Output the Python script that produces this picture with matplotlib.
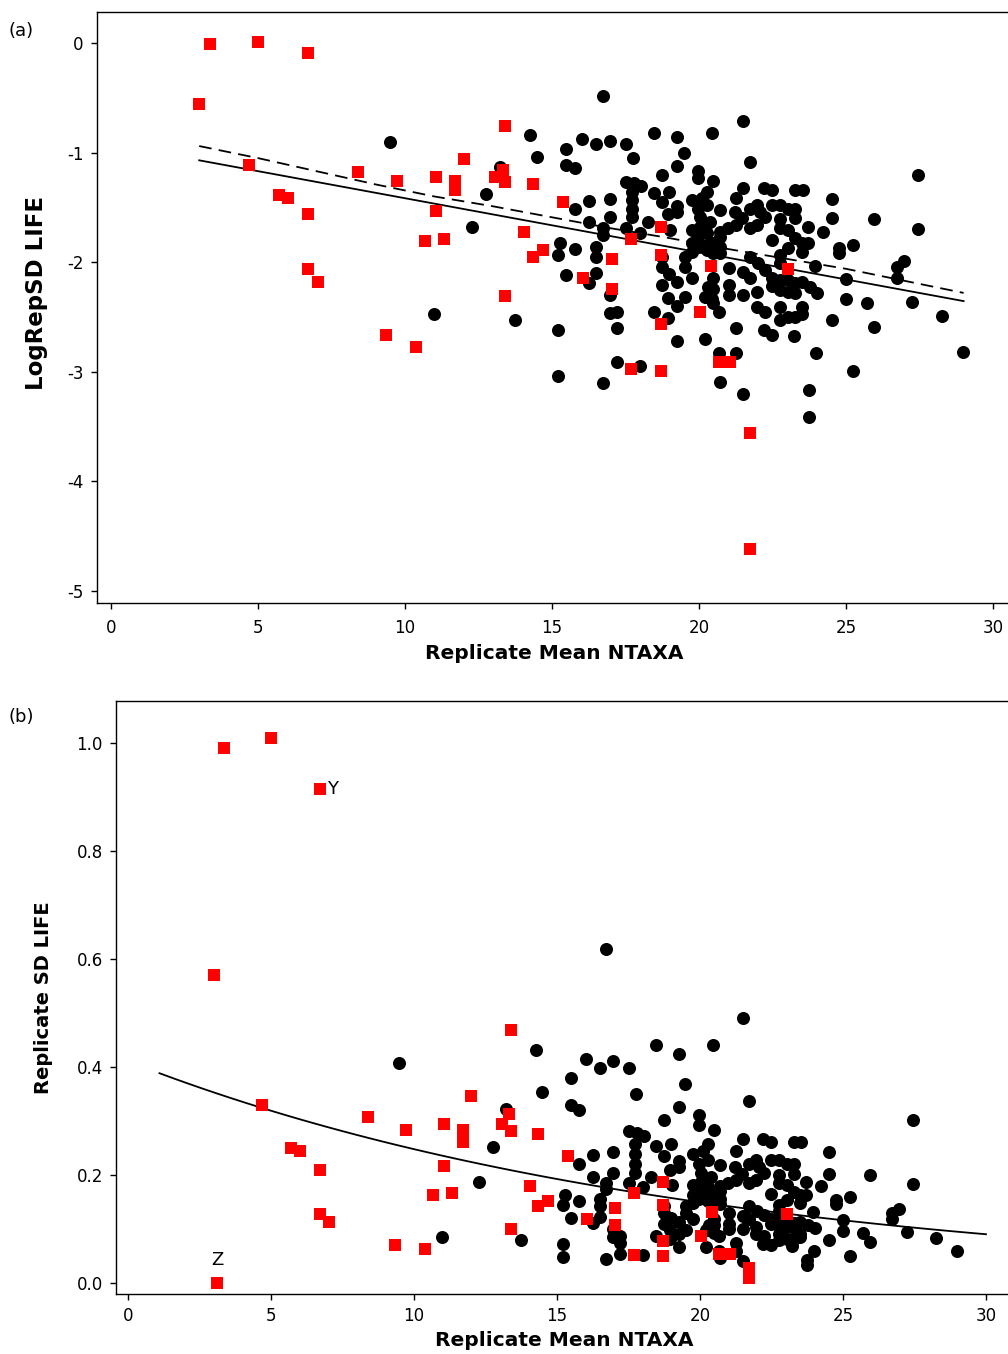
import numpy as np
import matplotlib
matplotlib.use("Agg")
import matplotlib.pyplot as plt

plt.rcParams.update({
    "font.family": "DejaVu Sans",
    "font.size": 12,
    "axes.linewidth": 1.0,
    "xtick.direction": "out",
    "ytick.direction": "out",
    "xtick.major.size": 4.5,
    "ytick.major.size": 4.5,
    "xtick.major.width": 1.0,
    "ytick.major.width": 1.0,
})

# ---------------------------------------------------------------------------
# Replicate means (NTAXA) and log replicate SD of LIFE
# ---------------------------------------------------------------------------
black_mean = [
    9.49, 10.99, 12.28, 12.76, 13.23, 13.74, 14.25, 14.49, 16.73, 15.48,
    16.02, 16.50, 16.97, 17.52, 17.76, 15.48, 15.78, 18.47, 19.25, 19.49,
    19.25, 18.74, 19.97, 19.97, 20.44, 17.52, 17.79, 18.03, 17.72, 17.72,
    17.72, 17.72, 18.47, 18.98, 18.74, 19.25, 19.25, 18.95, 19.76, 20.10,
    20.27, 19.97, 20.27, 16.26, 16.97, 15.78, 16.26, 16.97, 16.73, 16.73,
    17.52, 17.99, 18.27, 19.01, 19.76, 19.76, 19.76, 19.97, 19.97, 20.27,
    20.27, 15.27, 15.78, 16.50, 16.50, 15.20, 18.74, 18.74, 19.52, 19.52,
    18.98, 19.25, 18.74, 19.76, 15.48, 16.50, 16.26, 16.97, 16.97, 17.21,
    17.21, 15.20, 15.20, 16.73, 17.21, 17.99, 18.47, 18.95, 19.25, 20.20,
    18.95, 19.25, 19.52, 20.20, 20.31, 20.44, 20.48, 20.68, 20.68, 20.71,
    21.26, 21.26, 21.50, 22.21, 22.48, 23.23, 21.97, 22.24, 22.76, 22.76,
    23.03, 23.27, 23.50, 23.50, 22.76, 23.03, 23.27, 22.76, 23.03, 23.27,
    23.50, 23.78, 24.01, 21.73, 22.01, 22.24, 22.48, 22.48, 22.76, 22.76,
    23.03, 23.50, 23.95, 24.76, 24.76, 25.24, 21.02, 21.50, 21.73, 20.48,
    20.27, 20.48, 21.02, 21.02, 21.50, 21.97, 24.52, 25.00, 25.00, 25.71,
    25.95, 27.24, 28.27, 28.98, 26.73, 26.97, 26.73, 27.45, 27.45, 25.95,
    24.52, 24.52, 24.22, 23.71, 23.98, 23.74, 23.74, 25.24, 21.50, 21.73,
    20.48, 21.50, 21.26, 22.21, 22.48, 23.27, 23.54, 20.71, 21.22, 21.46,
    21.26, 20.99, 20.71, 20.37, 20.03, 20.03, 21.73, 21.97, 22.24, 21.97,
    21.73, 22.07, 22.48, 22.76, 23.03, 23.27, 23.27, 22.76, 22.76, 23.03,
    22.48, 23.27, 23.50, 23.71, 20.71, 20.48, 20.71, 20.27, 20.48, 20.71,
]
black_logsd = [
    -0.90, -2.47, -1.68, -1.38, -1.13, -2.53, -0.84, -1.04, -0.48, -0.97,
    -0.88, -0.92, -0.89, -0.92, -1.05, -1.11, -1.14, -0.82, -0.86, -1.00,
    -1.12, -1.20, -1.17, -1.23, -0.82, -1.27, -1.28, -1.30, -1.36, -1.43,
    -1.51, -1.59, -1.37, -1.36, -1.45, -1.49, -1.54, -1.56, -1.43, -1.41,
    -1.36, -1.51, -1.48, -1.44, -1.42, -1.51, -1.63, -1.59, -1.69, -1.75,
    -1.69, -1.73, -1.63, -1.71, -1.71, -1.82, -1.91, -1.77, -1.86, -1.73,
    -1.84, -1.82, -1.88, -1.86, -1.95, -1.93, -1.95, -2.04, -1.95, -2.04,
    -2.11, -2.18, -2.21, -2.14, -2.12, -2.10, -2.19, -2.30, -2.46, -2.45,
    -2.60, -2.62, -3.04, -3.10, -2.91, -2.95, -2.45, -2.51, -2.72, -2.70,
    -2.33, -2.40, -2.32, -2.32, -2.23, -2.34, -2.14, -2.45, -2.83, -3.09,
    -2.60, -2.83, -3.20, -2.62, -2.66, -2.67, -2.41, -2.45, -2.41, -2.53,
    -2.50, -2.50, -2.41, -2.47, -2.25, -2.27, -2.28, -2.16, -2.16, -2.19,
    -2.18, -2.23, -2.28, -1.95, -2.01, -2.07, -2.14, -2.22, -1.93, -2.01,
    -1.87, -1.91, -2.03, -1.87, -1.92, -1.84, -2.05, -2.09, -2.14, -2.24,
    -2.32, -2.37, -2.21, -2.30, -2.30, -2.27, -2.53, -2.15, -2.34, -2.37,
    -2.59, -2.36, -2.49, -2.82, -2.04, -1.99, -2.14, -1.20, -1.70, -1.61,
    -1.42, -1.60, -1.72, -1.68, -2.83, -3.17, -3.41, -2.99, -0.71, -1.09,
    -1.26, -1.32, -1.41, -1.32, -1.34, -1.34, -1.34, -1.52, -1.54, -1.60,
    -1.66, -1.69, -1.72, -1.63, -1.59, -1.68, -1.51, -1.48, -1.59, -1.66,
    -1.69, -1.54, -1.48, -1.48, -1.51, -1.51, -1.60, -1.61, -1.69, -1.71,
    -1.80, -1.78, -1.82, -1.82, -1.77, -1.82, -1.86, -1.89, -1.92, -1.92,
]

red_mean = [
    2.99, 3.37, 5.00, 6.70, 4.69, 5.71, 6.02, 6.70, 6.70, 7.04,
    8.40, 9.73, 11.05, 11.70, 11.70, 12.01, 11.05, 10.68, 11.33, 9.35,
    10.37, 13.33, 13.06, 13.40, 13.40, 14.35, 15.37, 14.05, 14.69, 14.35,
    17.69, 18.71, 18.71, 17.04, 16.05, 17.04, 20.41, 23.03, 13.40, 20.03,
    18.71, 17.69, 18.71, 20.68, 21.05, 21.73, 21.73,
]
red_logsd = [
    -0.56, -0.01, 0.01, -0.09, -1.11, -1.39, -1.41, -1.56, -2.06, -2.18,
    -1.18, -1.26, -1.22, -1.26, -1.34, -1.06, -1.53, -1.81, -1.79, -2.66,
    -2.77, -1.16, -1.22, -1.27, -0.76, -1.29, -1.45, -1.72, -1.89, -1.95,
    -1.79, -1.68, -1.93, -1.97, -2.14, -2.24, -2.03, -2.06, -2.31, -2.45,
    -2.56, -2.97, -2.99, -2.91, -2.91, -3.56, -4.62,
]

# sample with zero replicate SD (no log value), labelled Z
zero_mean = [3.11]
zero_sd = [0.0]

# sample labelled Y (index into the red series)
y_index = 3

# fitted relationship on the log scale (solid) and smoother (dashed)
log_fit_coef = (-0.922, -0.0494)
log_fit_range = (3.0, 29.0)
smooth_mean = [3.0, 5, 7, 9, 11, 13, 15, 17, 19, 21, 23, 25, 27, 29]
smooth_logsd = [-0.94, -1.05, -1.17, -1.29, -1.40, -1.49, -1.59,
                -1.69, -1.78, -1.88, -1.97, -2.06, -2.17, -2.28]

# fitted SD curve for panel (b)
sd_fit_coef = (-0.89, -0.0505)
sd_fit_range = (1.1, 30.0)

RED = "#ff0000"
W, H = 1008, 1354


def px_axes(fig, left, top, right, bottom):
    return fig.add_axes([left / W, 1 - bottom / H, (right - left) / W, (bottom - top) / H])


def style_axes(ax, pad):
    ax.spines["right"].set_visible(False)
    ax.tick_params(top=False, right=False, labelsize=12)
    ax.tick_params(axis="x", pad=pad)
    ax.tick_params(axis="y", pad=5)
    ax.set_xticks(np.arange(0, 31, 5))


fig = plt.figure(figsize=(W / 100, H / 100), dpi=100)

# ---- panel (a) -------------------------------------------------------------
ax_a = px_axes(fig, 97, 12, 1012, 603)
xs = np.linspace(*log_fit_range, 50)
ax_a.plot(xs, log_fit_coef[0] + log_fit_coef[1] * xs, color="black", lw=1.3, zorder=1)
ax_a.plot(smooth_mean, smooth_logsd, color="black", lw=1.3, ls=(0, (7, 4)), zorder=1)
ax_a.scatter(black_mean, black_logsd, s=88, marker="o", color="black",
             linewidths=0, zorder=2)
ax_a.scatter(red_mean, red_logsd, s=80, marker="s", color=RED,
             linewidths=0, zorder=3)
ax_a.set_xlim(-0.476, 30.646)
ax_a.set_ylim(-5.109, 0.283)
ax_a.set_yticks([0, -1, -2, -3, -4, -5])
ax_a.set_yticklabels(["0", "-1", "-2", "-3", "-4", "-5"])
style_axes(ax_a, pad=7)
ax_a.set_xlabel("Replicate Mean NTAXA", fontsize=14.5, fontweight="bold", labelpad=5)
ax_a.set_ylabel("LogRepSD LIFE", fontsize=16.5, fontweight="bold", labelpad=14, y=0.525)
fig.text(9 / W, 1 - 31 / H, "(a)", fontsize=13, va="center", ha="left")

# ---- panel (b) -------------------------------------------------------------
ax_b = px_axes(fig, 116, 701, 1012, 1294)
black_sd = np.exp(black_logsd)
red_sd = np.exp(red_logsd)
xs = np.linspace(*sd_fit_range, 60)
ax_b.plot(xs, np.exp(sd_fit_coef[0] + sd_fit_coef[1] * xs), color="black", lw=1.3, zorder=1)
ax_b.scatter(black_mean, black_sd, s=88, marker="o", color="black",
             linewidths=0, zorder=2)
ax_b.scatter(red_mean, red_sd, s=80, marker="s", color=RED, linewidths=0, zorder=3)
ax_b.scatter(zero_mean, zero_sd, s=80, marker="s", color=RED, linewidths=0, zorder=3)
ax_b.annotate("Y", (red_mean[y_index], red_sd[y_index]), xytext=(5, 0),
              textcoords="offset points", va="center", ha="left", fontsize=13)
ax_b.annotate("Z", (zero_mean[0], zero_sd[0]), xytext=(0, 10),
              textcoords="offset points", va="bottom", ha="center", fontsize=13)
ax_b.set_xlim(-0.42, 30.91)
ax_b.set_ylim(-0.0204, 1.0778)
ax_b.set_yticks(np.arange(0, 1.01, 0.2))
ax_b.set_yticklabels([f"{v:.1f}" for v in np.arange(0, 1.01, 0.2)])
style_axes(ax_b, pad=5)
ax_b.set_xlabel("Replicate Mean NTAXA", fontsize=14.5, fontweight="bold", labelpad=4.5)
ax_b.set_ylabel("Replicate SD LIFE", fontsize=14, fontweight="bold", labelpad=17)
fig.text(9 / W, 1 - 717 / H, "(b)", fontsize=13, va="center", ha="left")

fig.savefig("out.png", dpi=100)
